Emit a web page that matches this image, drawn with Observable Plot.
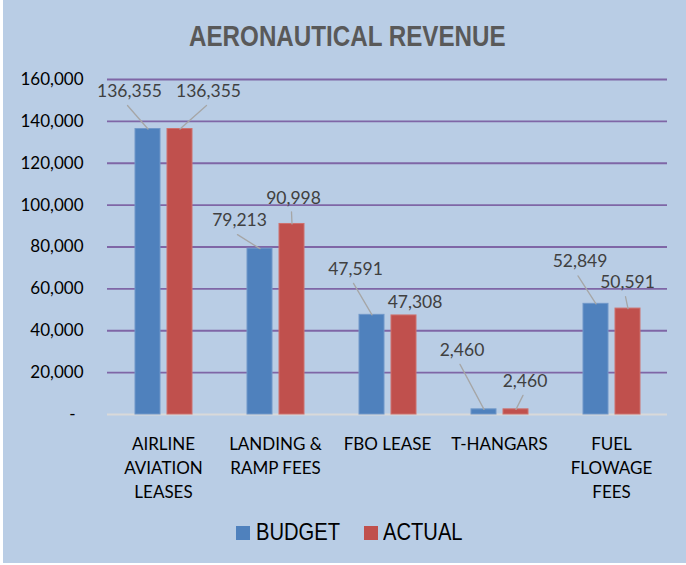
<!DOCTYPE html>
<html>
<head>
<meta charset="utf-8">
<script src="https://cdn.jsdelivr.net/npm/d3@7"></script>
<script src="https://cdn.jsdelivr.net/npm/@observablehq/plot@0.6"></script>
<style>
  html, body { margin: 0; padding: 0; background: #ffffff; }
  #chart {
    position: relative; width: 683px; height: 563px; margin-left: 3px;
    background: #b9cde5; overflow: hidden;
  }
  #title {
    position: absolute; left: 186px; top: 19px; white-space: nowrap;
    font-family: "Liberation Sans", Arial, sans-serif;
    font-weight: bold; font-size: 29px; color: #595959; line-height: 34px;
    transform: scaleX(0.834); transform-origin: 0 0;
  }
  #plot { position: absolute; left: -4px; top: 60px; }
  #legend {
    position: absolute; top: 517px; left: 0; width: 683px; height: 30px;
    font-family: "Liberation Sans", Arial, sans-serif;
    font-size: 24px; color: #000;
  }
  .sw { position: absolute; width: 14px; height: 14px; top: 9px; }
  .lt { position: absolute; top: 0; line-height: 30px; white-space: nowrap;
        transform: scaleX(0.84); transform-origin: 0 0; }
</style>
</head>
<body>
<div id="chart">
  <div id="title">AERONAUTICAL REVENUE</div>
  <div id="plot"></div>
  <div id="legend"></div>
</div>
<script>
// ---- data ----
const categories = [
  "AIRLINE\nAVIATION\nLEASES",
  "LANDING &\nRAMP FEES",
  "FBO LEASE",
  "T-HANGARS",
  "FUEL\nFLOWAGE\nFEES"
];
const series = ["BUDGET", "ACTUAL"];
const budget = [136355, 79213, 47591, 2460, 52849];
const actual = [136355, 90998, 47308, 2460, 50591];
const yTicks = [0, 20000, 40000, 60000, 80000, 100000, 120000, 140000, 160000];

// label placement (pixel offsets of each label centre from its bar top), styling only
const labelOffsetsBudget = [[-18.5, -37.5], [-20.5, -28], [-16.5, -45.5], [-22, -59], [-16, -42]];
const labelOffsetsActual = [[28.5, -37.5], [1.5, -26], [11, -13], [9, -28], [-0.5, -26]];

const colors = {BUDGET: "#4f81bd", ACTUAL: "#c0504d"};
const strokes = {BUDGET: "#7097c9", ACTUAL: "#cd716e"};

// ---- table ----
const rows = [];
categories.forEach((c, i) => {
  rows.push({category: c, series: "BUDGET", value: budget[i], off: labelOffsetsBudget[i]});
  rows.push({category: c, series: "ACTUAL", value: actual[i], off: labelOffsetsActual[i]});
});

const fmt = d3.format(",");
const labelFont = "Lato, 'Open Sans', sans-serif";

// per-label text and leader marks
const labelMarks = [];
rows.forEach((r) => {
  const [dx, dy] = r.off;
  labelMarks.push(Plot.text([r], {
    fx: "category", x: "series", y: "value",
    text: d => fmt(d.value), dx, dy,
    fill: "#404040", fontSize: 17.5, fontFamily: labelFont, textAnchor: "middle", lineAnchor: "middle"
  }));
  const lx = dx - 2, ly = dy + 14;
  const len = Math.hypot(lx, ly);
  if (ly < -4) {
    const ang = Math.atan2(lx, -ly) * 180 / Math.PI;
    labelMarks.push(Plot.vector([r], {
      fx: "category", x: "series", y: "value",
      length: len, rotate: ang, anchor: "start",
      stroke: "#a6a6a6", strokeWidth: 1.3,
      shape: {draw(ctx, l) { ctx.moveTo(0, 0); ctx.lineTo(0, -l); }}
    }));
  }
});

const plot = Plot.plot({
  width: 686,
  height: 450,
  marginLeft: 108,
  marginRight: 18,
  marginTop: 19,
  marginBottom: 96,
  style: {background: "transparent", overflow: "visible"},
  fx: {domain: categories, padding: 0, label: null},
  x: {domain: series, paddingInner: 7 / 32, paddingOuter: 0.859, axis: null},
  y: {domain: [0, 160000], axis: null},
  marks: [
    Plot.ruleY(yTicks.filter(d => d > 0), {stroke: "#7f66a6", strokeWidth: 1.8}),
    Plot.ruleY([0], {stroke: "#d9d9d9", strokeWidth: 2}),
    Plot.barY(rows, {
      fx: "category", x: "series", y: "value",
      fill: d => colors[d.series], stroke: d => strokes[d.series], strokeWidth: 1
    }),
    Plot.axisY(yTicks.filter(d => d > 0), {
      tickSize: 0, tickPadding: 24, tickFormat: fmt, label: null,
      fontSize: 17, fontFamily: labelFont, fill: "#000"
    }),
    Plot.axisY([0], {
      tickSize: 0, tickPadding: 32, tickFormat: () => "-", label: null,
      fontSize: 17, fontFamily: labelFont, fill: "#000"
    }),
    Plot.axisFx({
      anchor: "bottom", tickSize: 0, tickPadding: 18, label: null,
      fontSize: 17, fontFamily: labelFont, fill: "#000", lineHeight: 24 / 17
    }),
    ...labelMarks
  ]
});
document.getElementById("plot").appendChild(plot);

// legend
const legend = document.getElementById("legend");
const legendPos = {BUDGET: [233, 253], ACTUAL: [361, 380]};
series.forEach(s => {
  const sw = document.createElement("div");
  sw.className = "sw";
  sw.style.left = legendPos[s][0] + "px";
  sw.style.background = colors[s];
  legend.appendChild(sw);
  const t = document.createElement("div");
  t.className = "lt";
  t.style.left = legendPos[s][1] + "px";
  t.textContent = s;
  legend.appendChild(t);
});
</script>
</body>
</html>
